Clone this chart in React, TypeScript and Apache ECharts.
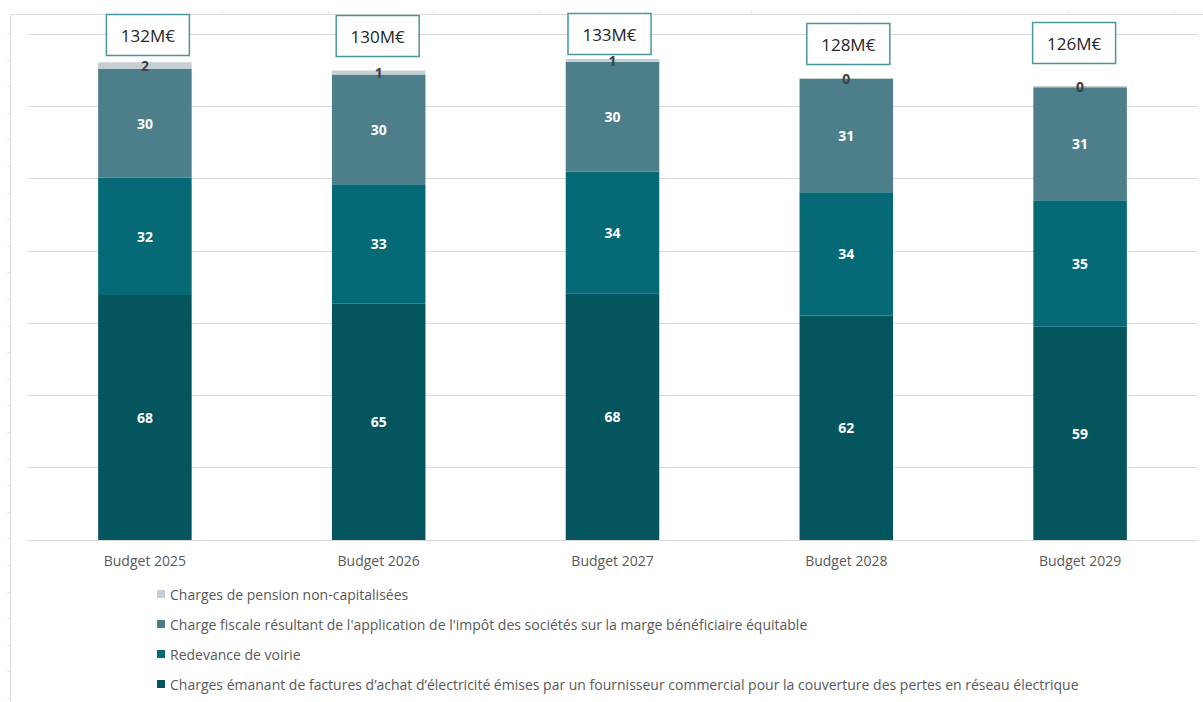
import React, { useEffect, useRef } from "react";
import * as echarts from "echarts";

const categories = ["Budget 2025", "Budget 2026", "Budget 2027", "Budget 2028", "Budget 2029"];

const seriesNames = [
  "Charges émanant de factures d’achat d’électricité émises par un fournisseur commercial pour la couverture des pertes en réseau électrique",
  "Redevance de voirie",
  "Charge fiscale résultant de l'application de l'impôt des sociétés sur la marge bénéficiaire équitable",
  "Charges de pension non-capitalisées",
];

const chargesAchat = [67.8, 65.4, 68.3, 62.1, 59.0];
const redevanceVoirie = [32.4, 33.0, 33.6, 34.1, 35.0];
const chargeFiscale = [30.1, 30.4, 30.4, 31.4, 31.3];
const chargesPension = [1.9, 1.1, 0.8, 0.2, 0.3];

const seriesValues = [chargesAchat, redevanceVoirie, chargeFiscale, chargesPension];
const seriesColors = ["#05555f", "#056a76", "#4c7f89", "#c5cfd3"];
const labelColors = ["#ffffff", "#ffffff", "#ffffff", "#404040"];

// layout of the total boxes (pixels)
const boxTop = [14, 15, 13, 23, 22];
const boxDx = [3, -1, -3, 2, -6];

const totals = categories.map((_, i) =>
  seriesValues.reduce((s, arr) => s + arr[i], 0)
);

const FONT = "'Open Sans', 'Noto Sans', sans-serif";

export default function App() {
  const ref = useRef<HTMLDivElement>(null);

  useEffect(() => {
    if (!ref.current) return;
    const chart = echarts.init(ref.current, undefined, { renderer: "svg" });

    const frame: any[] = [
      { type: "line", shape: { x1: 10.5, y1: 14.5, x2: 1203, y2: 14.5 }, style: { stroke: "#dcdcdc", lineWidth: 1 }, silent: true },
      { type: "line", shape: { x1: 10.5, y1: 14.5, x2: 10.5, y2: 702 }, style: { stroke: "#dcdcdc", lineWidth: 1 }, silent: true },
    ];
    for (let y = 33; y < 702; y += 26.6) {
      frame.push({ type: "line", shape: { x1: 7, y1: Math.round(y) + 0.5, x2: 10, y2: Math.round(y) + 0.5 }, style: { stroke: "#e4e4e4", lineWidth: 1 }, silent: true });
    }
    for (let x = 116; x < 1203; x += 105.8) {
      frame.push({ type: "line", shape: { x1: Math.round(x) + 0.5, y1: 11, x2: Math.round(x) + 0.5, y2: 14 }, style: { stroke: "#e4e4e4", lineWidth: 1 }, silent: true });
    }

    const barSeries = seriesValues.map((vals, si) => ({
      name: seriesNames[si],
      type: "bar",
      stack: "total",
      barWidth: "40%",
      data: vals,
      itemStyle: { color: seriesColors[si] },
      label: {
        show: true,
        position: "inside",
        formatter: (p: any) => String(Math.round(p.value)),
        color: labelColors[si],
        fontFamily: FONT,
        fontWeight: "bold",
        fontSize: 14,
      },
      emphasis: { disabled: true },
    }));

    const option: any = {
      animation: false,
      backgroundColor: "#ffffff",
      textStyle: { fontFamily: FONT },
      graphic: frame,
      grid: { left: 28, right: 6, top: 34, bottom: 162, containLabel: false },
      legend: {
        orient: "vertical",
        left: 157,
        top: 586,
        padding: 0,
        icon: "rect",
        itemWidth: 8,
        itemHeight: 8,
        itemGap: 14,
        selectedMode: false,
        data: [seriesNames[3], seriesNames[2], seriesNames[1], seriesNames[0]],
        textStyle: { color: "#595959", fontSize: 14, fontFamily: FONT, lineHeight: 16 },
      },
      xAxis: {
        type: "category",
        data: categories,
        axisLine: { show: true, lineStyle: { color: "#d9d9d9", width: 1 } },
        axisTick: { show: false },
        axisLabel: { color: "#595959", fontSize: 14, fontFamily: FONT, margin: 13 },
      },
      yAxis: {
        type: "value",
        min: 0,
        max: 140,
        interval: 20,
        axisLabel: { show: false },
        axisLine: { show: false },
        axisTick: { show: false },
        splitLine: { lineStyle: { color: "#d9d9d9", width: 1 } },
      },
      series: [
        ...barSeries,
        {
          type: "custom",
          name: "totals",
          data: totals.map((t, i) => [i, t]),
          z: 10,
          renderItem: (params: any, api: any) => {
            const idx = api.value(0);
            const pt = api.coord([idx, api.value(1)]);
            const w = 83;
            const h = 41;
            const cx = pt[0] + boxDx[idx];
            const top = boxTop[idx];
            return {
              type: "group",
              children: [
                {
                  type: "rect",
                  shape: { x: cx - w / 2, y: top + 0.5, width: w, height: h },
                  style: { fill: "#ffffff", stroke: "#4a969f", lineWidth: 1.5 },
                },
                {
                  type: "text",
                  style: {
                    text: Math.round(api.value(1)) + "M€",
                    x: cx,
                    y: top + h / 2 + 1,
                    align: "center",
                    verticalAlign: "middle",
                    fontSize: 17,
                    fontFamily: FONT,
                    fill: "#262626",
                  },
                },
              ],
            };
          },
        },
      ],
    };

    chart.setOption(option);
    return () => chart.dispose();
  }, []);

  return (
    <div
      ref={ref}
      style={{ position: "fixed", left: 0, top: 0, width: 1203, height: 702, background: "#fff" }}
    />
  );
}
